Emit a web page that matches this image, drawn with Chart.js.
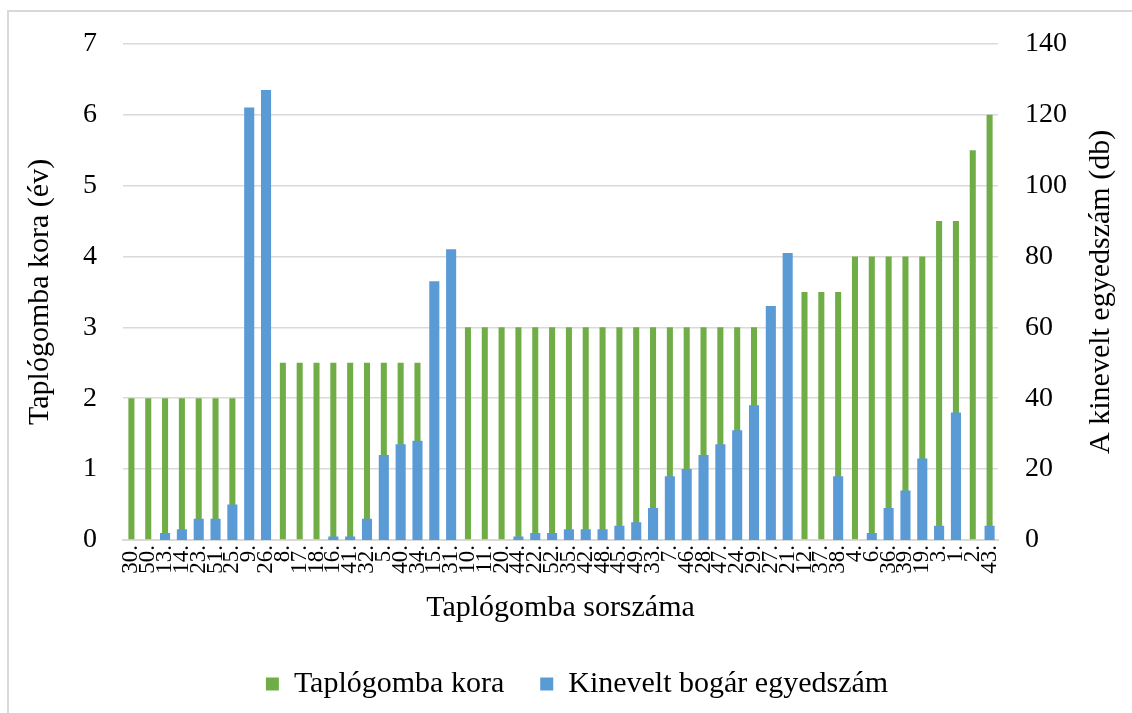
<!DOCTYPE html>
<html>
<head>
<meta charset="utf-8">
<script src="https://cdn.jsdelivr.net/npm/chart.js@4.4.0/dist/chart.umd.min.js"></script>
<style>
  html, body { margin: 0; padding: 0; background: #fff; }
</style>
</head>
<body>
<canvas id="fungusChart" width="1132" height="713"></canvas>
<script>
// Category labels (bracket fungus number)
const categories = ['30.', '50.', '13.', '14.', '23.', '51.', '25.', '9.', '26.',
  '8.', '17.', '18.', '16.', '41.', '32.', '5.', '40.', '34.', '15.', '31.',
  '10.', '11.', '20.', '44.', '22.', '52.', '35.', '42.', '48.', '45.', '49.', '33.',
  '7.', '46.', '28.', '47.', '24.', '29.', '27.', '21.', '12.', '37.', '38.',
  '4.', '6.', '36.', '39.', '19.', '3.', '1.', '2.', '43.'];

// Age of the fungus (years) - left axis
const fungusAge = [2, 2, 2, 2, 2, 2, 2, 2, 2,
  2.5, 2.5, 2.5, 2.5, 2.5, 2.5, 2.5, 2.5, 2.5, 2.5, 2.5,
  3, 3, 3, 3, 3, 3, 3, 3, 3, 3, 3, 3,
  3, 3, 3, 3, 3, 3, 3, 3, 3.5, 3.5, 3.5,
  4, 4, 4, 4, 4, 4.5, 4.5, 5.5, 6];

// Reared beetle count - right axis
const beetleCount = [0, 0, 2, 3, 6, 6, 10, 122, 127,
  0, 0, 0, 1, 1, 6, 24, 27, 28, 73, 82,
  0, 0, 0, 1, 2, 2, 3, 3, 3, 4, 5, 9,
  18, 20, 24, 27, 31, 38, 66, 81, 0, 0, 18,
  0, 2, 9, 14, 23, 4, 36, 0, 4];

const fontFamily = '"Liberation Serif", "Times New Roman", serif';

// frame and right-hand axis title
const extras = {
  id: 'extras',
  beforeDraw(chart) {
    const ctx = chart.ctx;
    ctx.save();
    ctx.fillStyle = '#d9d9d9';
    ctx.fillRect(7, 10, 2, 713);
    ctx.fillRect(7, 10, 1132, 2);
    ctx.restore();
  },
  afterDraw(chart) {
    const ctx = chart.ctx;
    const area = chart.chartArea;
    ctx.save();
    ctx.translate(1101, (area.top + area.bottom) / 2);
    ctx.rotate(-Math.PI / 2);
    ctx.font = '30px ' + fontFamily;
    ctx.fillStyle = '#000';
    ctx.textAlign = 'center';
    ctx.textBaseline = 'middle';
    ctx.fillText('A kinevelt egyedszám (db)', 0, 0);
    ctx.restore();
  }
};

const ctx = document.getElementById('fungusChart').getContext('2d');
new Chart(ctx, {
  type: 'bar',
  data: {
    labels: categories,
    datasets: [{
      label: 'Taplógomba kora',
      data: fungusAge,
      yAxisID: 'y',
      backgroundColor: '#70ad47',
      barPercentage: 0.36,
      categoryPercentage: 1,
      order: 1
    }, {
      label: 'Kinevelt bogár egyedszám',
      data: beetleCount,
      yAxisID: 'y1',
      backgroundColor: '#5b9bd5',
      barPercentage: 0.6,
      categoryPercentage: 1,
      order: 0
    }]
  },
  options: {
    responsive: false,
    animation: false,
    layout: { padding: { top: 40, left: 22, right: 0, bottom: 4 } },
    plugins: {
      tooltip: { enabled: false },
      legend: {
        position: 'bottom',
        labels: {
          font: { family: fontFamily, size: 30 },
          color: '#000',
          boxWidth: 13,
          boxHeight: 13,
          padding: 36,
          sort: (a, b) => a.datasetIndex - b.datasetIndex
        }
      }
    },
    datasets: { bar: { grouped: false } },
    scales: {
      x: {
        grid: { display: false, drawTicks: false },
        border: { color: '#d9d9d9', width: 2 },
        ticks: {
          autoSkip: false,
          minRotation: 90,
          maxRotation: 90,
          padding: 5,
          color: '#000',
          font: { family: fontFamily, size: 23 }
        },
        title: {
          display: true,
          text: 'Taplógomba sorszáma',
          color: '#000',
          font: { family: fontFamily, size: 30 },
          padding: { top: 0, bottom: 7 }
        },
        afterFit: s => { s.height = 93; }
      },
      y: {
        position: 'left',
        min: 0,
        max: 7,
        ticks: { stepSize: 1, padding: 26, color: '#000', font: { family: fontFamily, size: 28 } },
        grid: { color: '#d9d9d9', lineWidth: 1.5, drawTicks: false },
        border: { display: false },
        title: {
          display: true,
          text: 'Taplógomba kora (év)',
          color: '#000',
          font: { family: fontFamily, size: 30 },
          padding: { top: 0, bottom: 0 }
        },
        afterFit: s => { s.width = 101; }
      },
      y1: {
        position: 'right',
        min: 0,
        max: 140,
        ticks: { stepSize: 20, padding: 27, color: '#000', font: { family: fontFamily, size: 28 } },
        grid: { display: false, drawTicks: false },
        border: { display: false },
        afterFit: s => { s.width = 134; }
      }
    }
  },
  plugins: [extras]
});
</script>
</body>
</html>
